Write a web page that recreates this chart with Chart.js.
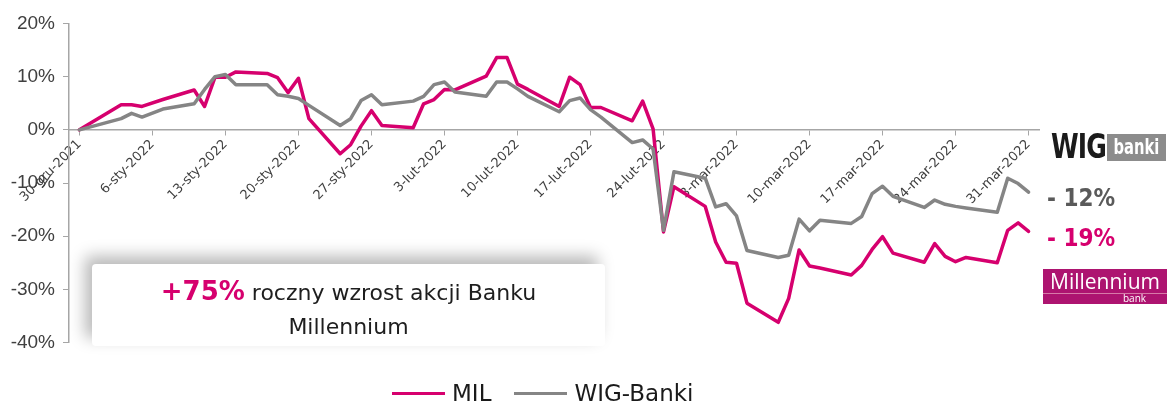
<!DOCTYPE html>
<html lang="pl">
<head>
<meta charset="utf-8">
<script src="https://cdn.jsdelivr.net/npm/chart.js@4.4.1/dist/chart.umd.min.js"></script>
<style>
  html, body { margin: 0; padding: 0; background: #fff; }
  #wrap { position: relative; width: 1169px; height: 405px; overflow: hidden; font-family: "DejaVu Sans", sans-serif; }
  #myChart { position: absolute; left: 0; top: 0; }
  .note { position: absolute; left: 92px; top: 264px; width: 513px; height: 82px; box-sizing: border-box; padding-top: 12px;
    background: #fff; border-radius: 4px; box-shadow: -7px -8px 16px rgba(0,0,0,0.28);
    text-align: center; color: #1e1e1e; font-size: 22px; line-height: 34px; }
  .note b { color: #d6006e; font-size: 26px; line-height: 1; }
  .legend { position: absolute; left: 392px; top: 379px; height: 28px; display: flex; align-items: center; font-size: 23px; color: #1a1a1a; }
  .legend i { display: inline-block; width: 53px; height: 3px; margin-right: 7px; }
  .legend span { margin-right: 23px; }
  .chg { position: absolute; left: 1047px; font-family: "DejaVu Sans Condensed", "DejaVu Sans", sans-serif; font-weight: bold; font-size: 24px; line-height: 28px; }
  .wig-w { position: absolute; left: 1051px; top: 129px; height: 34px; line-height: 34px; font-family: "DejaVu Sans Condensed", sans-serif; font-weight: bold;
    font-size: 34px; color: #1b1b1b; letter-spacing: -1px; transform: scaleX(0.82); transform-origin: left center; }
  .wig-b { position: absolute; left: 1107px; top: 134px; width: 59px; height: 27px; line-height: 27px; background: #8c8c8c; color: #fff;
    font-family: "DejaVu Sans Condensed", sans-serif; font-weight: bold; font-size: 21px; text-align: center; overflow: hidden; }
  .wig-b span { display: inline-block; transform: scaleX(0.78); }
  .mil { position: absolute; left: 1043px; top: 269px; width: 124px; height: 35px; background: #ad1470; color: #fff; }
  .mil .t { position: absolute; left: 0; top: 0; width: 124px; text-align: center; font-family: "Open Sans", sans-serif; font-size: 21px; line-height: 25px; }
  .mil .s { position: absolute; left: 0; top: 24px; width: 124px; height: 1px; background: #d77aa8; }
  .mil .k { position: absolute; left: 80px; top: 23px; font-family: "Open Sans", sans-serif; font-size: 10px; line-height: 12px; }
</style>
</head>
<body>
<div id="wrap">
  <canvas id="myChart" width="1169" height="405"></canvas>
  <div class="note"><b>+75%</b> roczny wzrost akcji Banku<br>Millennium</div>
  <div class="wig-w">WIG</div>
  <div class="wig-b"><span>banki</span></div>
  <div class="chg" style="top:184px;color:#5a5a5a">- 12%</div>
  <div class="chg" style="top:224px;color:#d6006e">- 19%</div>
  <div class="mil"><div class="t">Millennium</div><div class="s"></div><div class="k">bank</div></div>
  <div class="legend"><i style="background:#d6006e"></i><span>MIL</span><i style="background:#858585"></i>WIG-Banki</div>
</div>
<script>
const dates = [
  '2021-12-30', '2022-01-03', '2022-01-04', '2022-01-05', '2022-01-07',
  '2022-01-10', '2022-01-11', '2022-01-12', '2022-01-13', '2022-01-14',
  '2022-01-17', '2022-01-18', '2022-01-19', '2022-01-20', '2022-01-21',
  '2022-01-24', '2022-01-25', '2022-01-26', '2022-01-27', '2022-01-28',
  '2022-01-31', '2022-02-01', '2022-02-02', '2022-02-03', '2022-02-04',
  '2022-02-07', '2022-02-08', '2022-02-09', '2022-02-10', '2022-02-11',
  '2022-02-14', '2022-02-15', '2022-02-16', '2022-02-17', '2022-02-18',
  '2022-02-21', '2022-02-22', '2022-02-23', '2022-02-24', '2022-02-25',
  '2022-02-28', '2022-03-01', '2022-03-02', '2022-03-03', '2022-03-04',
  '2022-03-07', '2022-03-08', '2022-03-09', '2022-03-10', '2022-03-11',
  '2022-03-14', '2022-03-15', '2022-03-16', '2022-03-17', '2022-03-18',
  '2022-03-21', '2022-03-22', '2022-03-23', '2022-03-24', '2022-03-25',
  '2022-03-28', '2022-03-29', '2022-03-30', '2022-03-31'
];

// zmiana od 30-gru-2021, w %
const milValues = [
  0, 4.7, 4.7, 4.4, 5.7,
  7.5, 4.4, 9.9, 9.9, 10.9,
  10.6, 9.8, 7.0, 9.7, 2.1,
  -4.5, -2.8, 0.7, 3.6, 0.8,
  0.4, 4.9, 5.7, 7.6, 7.5,
  10.1, 13.6, 13.6, 8.6, 7.6,
  4.4, 9.9, 8.5, 4.2, 4.2,
  1.7, 5.4, 0.2, -19.2, -10.7,
  -14.4, -21.1, -24.9, -25.1, -32.6,
  -36.2, -31.7, -22.6, -25.6, -26.0,
  -27.3, -25.5, -22.5, -20.1, -23.2,
  -24.9, -21.4, -23.8, -24.8, -24.0,
  -25.0, -18.9, -17.5, -19.1
];

const wigValues = [
  0, 2.1, 3.1, 2.4, 3.9,
  4.9, 7.6, 10.0, 10.4, 8.5,
  8.5, 6.6, 6.3, 5.9, 4.6,
  0.8, 2.1, 5.5, 6.6, 4.7,
  5.4, 6.3, 8.5, 9.0, 7.1,
  6.3, 9.0, 9.0, 7.7, 6.3,
  3.4, 5.5, 6.0, 3.8, 2.4,
  -2.4, -1.9, -3.6, -18.9, -7.9,
  -9.1, -14.5, -13.9, -16.2, -22.7,
  -24.0, -23.6, -16.8, -19.0, -17.0,
  -17.6, -16.3, -12.0, -10.6, -12.5,
  -14.6, -13.2, -14.0, -14.4, -14.7,
  -15.5, -9.1, -10.1, -11.7
];

const tickLabels = [
  '30-gru-2021', '6-sty-2022', '13-sty-2022', '20-sty-2022', '27-sty-2022',
  '3-lut-2022', '10-lut-2022', '17-lut-2022', '24-lut-2022', '3-mar-2022',
  '10-mar-2022', '17-mar-2022', '24-mar-2022', '31-mar-2022'
];

// dni od pierwszej daty
const dayOf = function (s) {
  const p = s.split('-').map(Number);
  return (Date.UTC(p[0], p[1] - 1, p[2]) - Date.UTC(2021, 11, 30)) / 86400000;
};
const days = dates.map(dayOf);
const tickDays = tickLabels.map((l, i) => i * 7);

const toPoints = vals => vals.map((v, i) => ({ x: days[i], y: v }));

const axisGray = '#a6a6a6';

const config = {
  type: 'line',
  data: {
    datasets: [
      { label: 'MIL', data: toPoints(milValues), borderColor: '#d6006e', borderWidth: 3.5, order: 2 },
      { label: 'WIG-Banki', data: toPoints(wigValues), borderColor: '#858585', borderWidth: 3.5, order: 1 }
    ]
  },
  options: {
    responsive: false,
    animation: false,
    layout: { padding: { left: 0, right: 130, top: 23.5, bottom: 62.5 } },
    elements: {
      point: { radius: 0 },
      line: { tension: 0, borderJoinStyle: 'round', borderCapStyle: 'round' }
    },
    plugins: { legend: { display: false }, tooltip: { enabled: false } },
    scales: {
      x: {
        type: 'linear',
        position: { y: 0 },
        min: -1,
        max: 92,
        afterBuildTicks: axis => { axis.ticks = tickDays.map(v => ({ value: v })); },
        grid: { drawOnChartArea: false, tickLength: 5, color: axisGray },
        border: { color: axisGray, width: 1.5 },
        ticks: {
          autoSkip: false,
          minRotation: 45,
          maxRotation: 45,
          padding: 2,
          color: '#404040',
          font: { family: 'DejaVu Sans', size: 13 },
          callback: v => tickLabels[tickDays.indexOf(v)]
        }
      },
      y: {
        min: -40,
        max: 20,
        afterFit: scale => { scale.width = 69; },
        grid: { drawOnChartArea: false, tickLength: 6, color: axisGray },
        border: { color: axisGray, width: 1.5 },
        ticks: {
          stepSize: 10,
          padding: 8,
          color: '#404040',
          font: { family: 'Liberation Sans', size: 19 },
          callback: v => v + '%'
        }
      }
    }
  }
};

new Chart(document.getElementById('myChart'), config);
</script>
</body>
</html>
